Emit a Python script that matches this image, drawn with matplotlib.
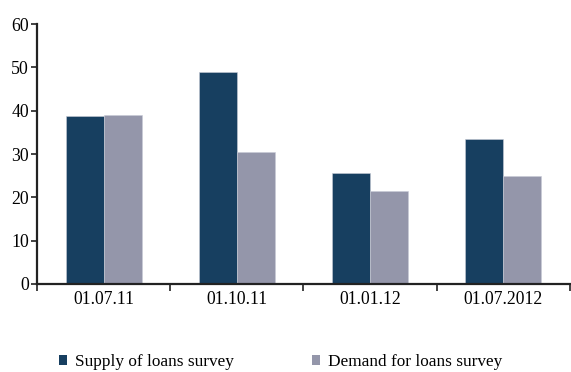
import matplotlib
matplotlib.use("Agg")
import matplotlib.pyplot as plt
import numpy as np
from matplotlib.patches import Patch

categories = ["01.07.11", "01.10.11", "01.01.12", "01.07.2012"]
supply = [38.8, 49.0, 25.7, 33.5]
demand = [39.1, 30.5, 21.5, 24.9]
series_names = ["Supply of loans survey", "Demand for loans survey"]
yticks = [0, 10, 20, 30, 40, 50, 60]

dark = "#173f60"
grey = "#9496aa"

plt.rcParams["font.family"] = ["Liberation Serif", "DejaVu Serif"]

fig = plt.figure(figsize=(5.71, 3.72), dpi=100)
ax = fig.add_axes([0.065, 0.237, 0.933, 0.698])

x = np.arange(len(categories))
w = 0.285
ax.bar(x - w / 2, supply, width=w, color=dark, edgecolor="#c8cbd6", linewidth=0.4)
ax.bar(x + w / 2, demand, width=w, color=grey, edgecolor="#c8cbd6", linewidth=0.4)

ax.set_xlim(-0.5, len(categories) - 0.5)
ax.set_ylim(0, 60)
ax.set_yticks(yticks)
ax.set_xticks(x)
ax.set_xticklabels(categories)
ax.set_xticks(np.arange(len(categories) + 1) - 0.5, minor=True)

for side in ("top", "right"):
    ax.spines[side].set_visible(False)
for side in ("left", "bottom"):
    ax.spines[side].set_color("#222222")
    ax.spines[side].set_linewidth(1.6)

ax.tick_params(axis="y", direction="out", length=4, width=1.2, color="#222222",
               labelsize=12.8, pad=2)
ax.tick_params(axis="x", which="major", length=0, labelsize=12.7, pad=5)
ax.tick_params(axis="x", which="minor", direction="out", length=5, width=1.2,
               color="#222222")

handles = [Patch(facecolor=dark), Patch(facecolor=grey)]
fig.legend(handles, series_names, loc="center left", bbox_to_anchor=(0.103, 0.027),
           ncol=2, frameon=False, fontsize=12.4, handlelength=0.5, handleheight=0.55,
           handletextpad=0.45, columnspacing=4.5, borderpad=0, borderaxespad=0)

fig.savefig("out.png", dpi=100)
